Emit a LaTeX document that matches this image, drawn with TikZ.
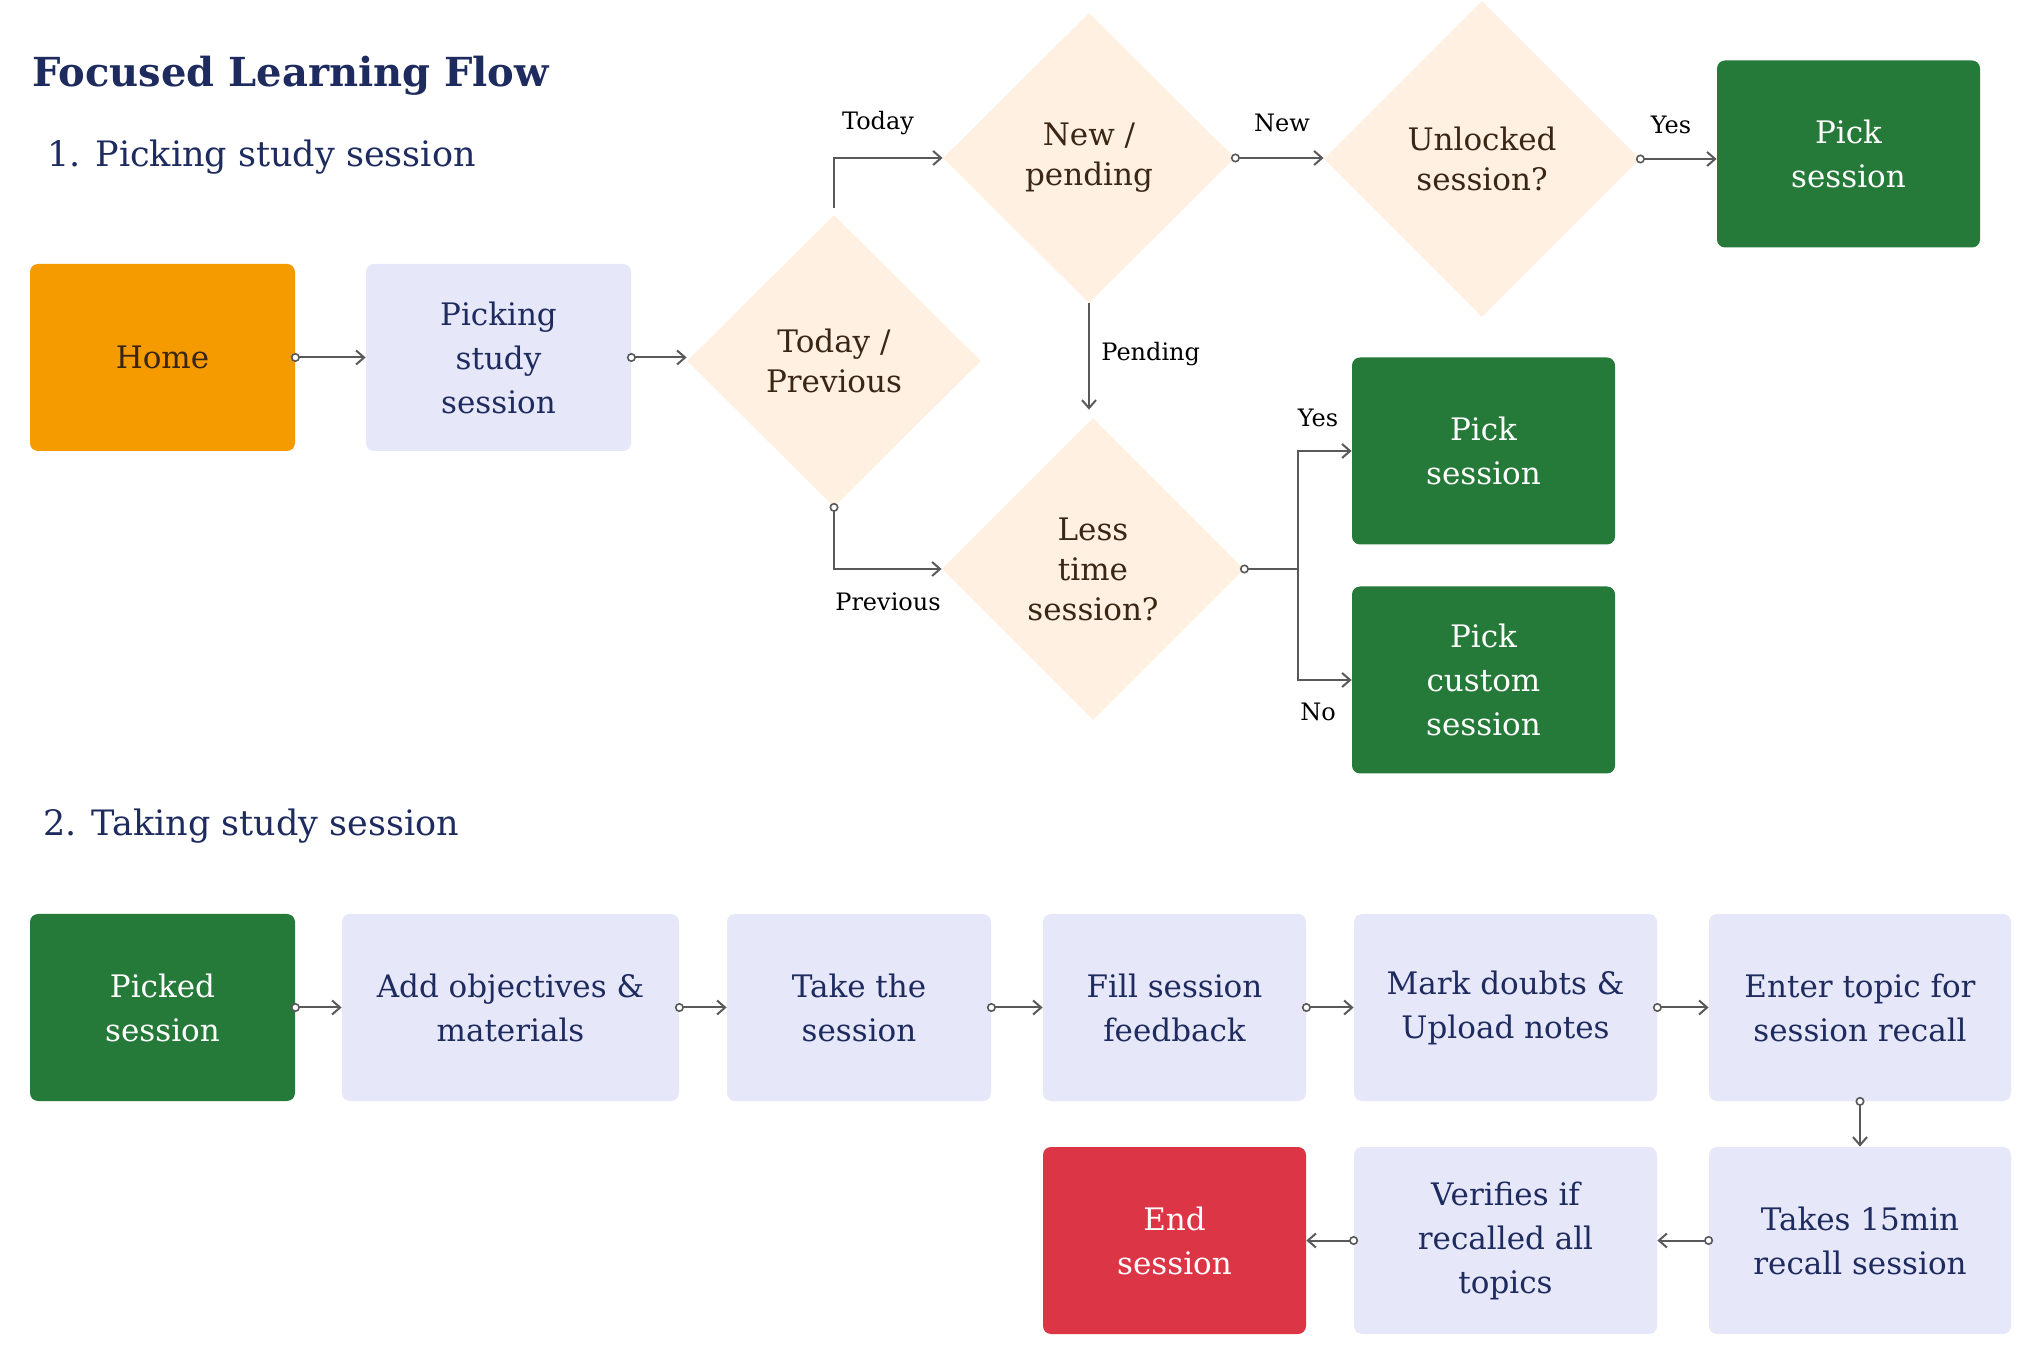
\documentclass[tikz,border=0pt]{standalone}
\usepackage{fontspec}
\setmainfont{DejaVu Serif}
\usetikzlibrary{shapes.geometric,arrows.meta}
\definecolor{navy}{HTML}{1E2B5F}
\definecolor{lav}{HTML}{E6E7F8}
\definecolor{peach}{HTML}{FFF0E1}
\definecolor{orng}{HTML}{F59B00}
\definecolor{grn}{HTML}{267A39}
\definecolor{redb}{HTML}{DC3545}
\definecolor{brn}{HTML}{3A2614}
\definecolor{conn}{HTML}{595959}
\begin{document}
\begin{tikzpicture}[x=0.5pt,y=-0.5pt,
  box/.style={rectangle, rounded corners=4pt, inner sep=0pt, align=center, font=\fontsize{15.5}{22}\selectfont, minimum height=93.5pt},
  lavbox/.style={box, fill=lav, text=navy},
  grnbox/.style={box, fill=grn, text=white},
  dia/.style={diamond, fill=peach, text=brn, inner sep=0pt, align=center, font=\fontsize{15.5}{20}\selectfont},
  elabel/.style={font=\fontsize{12}{14}\selectfont, text=black, inner sep=0pt},
  conline/.style={draw=conn, line width=1pt},
  flow/.style={conline, -{Straight Barb[length=4pt,width=7pt]}},
  dflow/.style={conline, {Circle[fill=white,length=4.5pt,width=4.5pt,line width=0.8pt]}-{Straight Barb[length=4pt,width=7pt]}, shorten <=-2.25pt},
  dline/.style={conline, {Circle[fill=white,length=4.5pt,width=4.5pt,line width=0.8pt]}-, shorten <=-2.25pt},
  head/.style={anchor=west, text=navy, inner sep=0pt},
]
\fill[white] (0,0) rectangle (2036,1368);
\useasboundingbox (0,0) rectangle (2036,1368);

% headings
\node[head, font=\fontsize{20}{24}\selectfont\bfseries] (title) at (32,76) {Focused Learning Flow};
\node[head, font=\fontsize{17.5}{20}\selectfont] (sec1) at (47,157) {1. Picking study session};
\node[head, font=\fontsize{17.5}{20}\selectfont] (sec2) at (43,826) {2. Taking study session};

% section 1
\node[box, fill=orng, text=brn, minimum width=132.5pt] (home) at (162.5,357.5) {Home};
\node[lavbox, minimum width=132.5pt] (pick) at (498.5,357.5) {Picking\\study\\session};
\node[dia, minimum width=147pt, minimum height=146pt] (tp) at (834,361) {Today /\\Previous};
\node[dia, minimum width=146pt, minimum height=145pt] (np) at (1089,158) {New /\\pending};
\node[dia, minimum width=158pt, minimum height=158pt] (ul) at (1482,159) {Unlocked\\session?};
\node[grnbox, minimum width=131.5pt] (ps1) at (1848.5,154) {Pick\\session};
\node[dia, minimum width=151pt, minimum height=151pt] (lt) at (1093,569) {Less\\time\\session?};
\node[grnbox, minimum width=131.5pt] (ps2) at (1483.5,451) {Pick\\session};
\node[grnbox, minimum width=131.5pt] (pc) at (1483.5,680) {Pick\\custom\\session};

\coordinate (split) at (1298,569);

\draw[dflow] (home.east) -- (pick.west);
\draw[dflow] (pick.east) -- (pick.east -| tp.west);
\draw[flow, shorten <=3.5pt] (tp.north) |- (np.west);
\draw[dflow] (tp.south) |- (lt.west);
\draw[flow, shorten >=4pt] (np.south) -- (np.south |- lt.north);
\draw[dflow] (np.east) -- (np.east -| ul.west);
\draw[dflow] (ul.east) -- (ul.east -| ps1.west);
\draw[dline] (lt.east) -- (split);
\draw[flow] (split) |- (ps2.west);
\draw[flow] (split) |- (pc.west);

\node[elabel] (lToday) at (878,123) {Today};
\node[elabel] (lPrev) at (888,602) {Previous};
\node[elabel, anchor=west] (lPend) at (1101,354) {Pending};
\node[elabel] (lNew) at (1282,123) {New};
\node[elabel] (lYes1) at (1671,125) {Yes};
\node[elabel] (lYes2) at (1318,418) {Yes};
\node[elabel] (lNo) at (1318,712) {No};

% section 2
\node[grnbox, minimum width=132.5pt] (picked) at (162.5,1007.5) {Picked\\session};
\node[lavbox, minimum width=168.5pt] (addobj) at (510.5,1007.5) {Add objectives \&\\materials};
\node[lavbox, minimum width=132pt] (take) at (859,1007.5) {Take the\\session};
\node[lavbox, minimum width=131.5pt] (fill) at (1174.5,1007.5) {Fill session\\feedback};
\node[lavbox, minimum width=151.5pt] (mark) at (1505.5,1007.5) {Mark doubts \&\\Upload notes};
\node[lavbox, minimum width=151pt] (enter) at (1860,1007.5) {Enter topic for\\session recall};
\node[box, fill=redb, text=white, minimum width=131.5pt] (endn) at (1174.5,1240.5) {End\\session};
\node[lavbox, minimum width=151.5pt] (verify) at (1505.5,1240.5) {Verifies if\\recalled all\\topics};
\node[lavbox, minimum width=151pt] (takes) at (1860,1240.5) {Takes 15min\\recall session};

\draw[dflow] (picked.east) -- (addobj.west);
\draw[dflow] (addobj.east) -- (take.west);
\draw[dflow] (take.east) -- (fill.west);
\draw[dflow] (fill.east) -- (mark.west);
\draw[dflow] (mark.east) -- (enter.west);
\draw[dflow] (enter.south) -- (takes.north);
\draw[dflow] (takes.west) -- (verify.east);
\draw[dflow] (verify.west) -- (endn.east);
\end{tikzpicture}
\end{document}
